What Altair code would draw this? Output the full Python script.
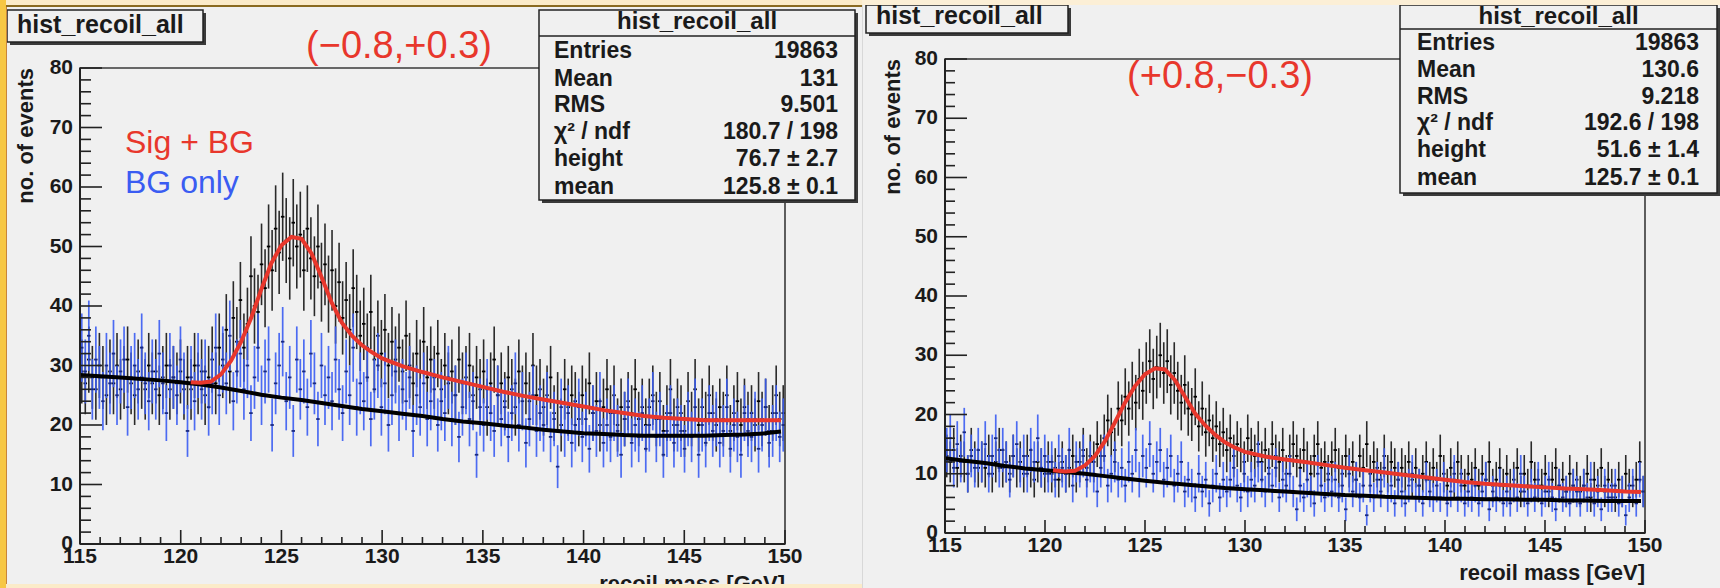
import altair as alt
import numpy as np
import pandas as pd

# ---------------- data ----------------
X_LO, X_HI, NBINS = 115.0, 150.0, 200

# left panel (-0.8,+0.3): BG only (blue) and Sig + BG (black) bin contents
L_BG_ONLY = [
    33, 29, 35, 26, 31, 28, 24, 30, 27, 32,
    25, 29, 31, 23, 28, 30, 26, 33, 27, 24,
    29, 26, 32, 27, 22, 30, 28, 25, 31, 27,
    19, 28, 24, 30, 26, 29, 23, 27, 33, 25,
    31, 27, 35, 24, 29, 32, 26, 30, 22, 28,
    33, 25, 29, 31, 20, 27, 30, 34, 24, 28,
    19, 31, 26, 29, 23, 32, 27, 21, 30, 25,
    28, 24, 31, 26, 22, 29, 25, 33, 23, 27,
    24, 28, 21, 26, 30, 23, 27, 20, 25, 29,
    22, 26, 24, 28, 19, 25, 23, 27, 21, 24,
    26, 20, 24, 22, 28, 21, 25, 18, 23, 27,
    21, 24, 15, 23, 20, 26, 22, 19, 25, 21,
    23, 18, 22, 27, 20, 24, 17, 21, 25, 19,
    22, 20, 24, 18, 21, 13, 23, 19, 22, 17,
    20, 23, 18, 21, 16, 22, 19, 24, 17, 20,
    18, 22, 19, 15, 21, 23, 17, 20, 18, 22,
    16, 20, 24, 18, 21, 15, 19, 22, 17, 20,
    19, 16, 21, 18, 23, 15, 20, 17, 22, 19,
    21, 17, 19, 23, 16, 20, 18, 15, 22, 19,
    18, 21, 16, 20, 23, 17, 19, 22, 18, 20,
]
L_SIG_BG = [
    29, 27, 31, 28, 26, 30, 28, 25, 29, 27,
    30, 26, 28, 31, 27, 25, 29, 28, 26, 30,
    27, 29, 25, 28, 30, 26, 28, 27, 29, 26,
    28, 26, 30, 27, 29, 25, 28, 31, 27, 33,
    30, 36, 29, 38, 34, 41, 33, 37, 45, 40,
    39, 47, 43, 50, 46, 53, 49, 55, 51, 48,
    54, 50, 52, 46, 53, 48, 45, 50, 44, 47,
    42, 46, 40, 44, 38, 41, 36, 43, 39, 35,
    37, 33, 39, 31, 35, 32, 36, 30, 34, 31,
    33, 29, 35, 30, 27, 32, 29, 34, 28, 31,
    28, 32, 26, 30, 27, 29, 25, 31, 27, 28,
    30, 25, 28, 26, 29, 23, 27, 31, 25, 27,
    24, 28, 26, 23, 29, 25, 27, 24, 30, 25,
    26, 23, 25, 28, 22, 24, 20, 26, 23, 25,
    24, 21, 25, 23, 27, 22, 24, 20, 23, 26,
    22, 25, 20, 23, 21, 24, 22, 26, 21, 23,
    20, 23, 25, 21, 24, 19, 22, 26, 20, 23,
    22, 19, 24, 21, 26, 20, 23, 21, 25, 22,
    20, 23, 21, 25, 19, 22, 24, 20, 23, 21,
    22, 20, 24, 21, 23, 19, 22, 25, 21, 22,
]
# left fit curves
L_FIT_X = [120.5, 121.0, 121.5, 122.0, 122.5, 123.0, 123.5, 124.0, 124.5, 125.0,
           125.5, 126.0, 126.5, 127.0, 127.5, 128.0, 128.5, 129.0, 129.5, 130.0,
           131.0, 132.0, 133.0, 134.0, 135.0, 136.0, 137.0, 138.0, 139.0, 140.0,
           141.0, 142.0, 143.0, 144.0, 145.0, 146.0, 147.0, 148.0, 149.0, 149.8]
L_FIT_Y = [27.2, 27.1, 27.3, 28.5, 30.8, 34.0, 38.0, 42.8, 47.2, 50.2,
           51.6, 51.3, 48.8, 44.8, 40.5, 37.2, 35.0, 33.4, 32.2, 31.2,
           29.9, 28.9, 28.0, 27.2, 26.4, 25.6, 24.9, 24.3, 23.7, 23.1,
           22.5, 22.0, 21.5, 21.2, 21.0, 20.8, 20.8, 20.8, 20.8, 20.8]
L_BGFIT_X = [115, 117, 119, 120, 121, 122, 123, 124, 125, 126, 127, 128, 129, 130,
             131, 132, 133, 134, 135, 136, 137, 138, 139, 140, 141, 142, 143, 144,
             145, 146, 147, 148, 149, 149.8]
L_BGFIT_Y = [28.4, 28.0, 27.5, 27.2, 26.8, 26.3, 25.7, 25.1, 24.6, 24.2, 23.7, 23.2, 22.7, 22.3,
             21.9, 21.5, 21.0, 20.6, 20.3, 19.9, 19.6, 19.2, 18.9, 18.6, 18.5, 18.3, 18.2, 18.2,
             18.2, 18.2, 18.3, 18.4, 18.6, 18.9]

# right panel (+0.8,-0.3)
R_BG_ONLY = [
    14, 16, 11, 15, 12, 17, 10, 13, 11, 14,
    12, 15, 10, 13, 16, 11, 14, 12, 9, 13,
    15, 11, 13, 10, 14, 12, 16, 11, 13, 10,
    12, 9, 13, 11, 10, 14, 8, 12, 11, 13,
    9, 12, 10, 7, 11, 13, 8, 10, 12, 9,
    11, 8, 12, 10, 14, 9, 13, 11, 15, 10,
    12, 14, 9, 11, 13, 8, 10, 12, 7, 9,
    8, 6, 10, 7, 9, 5, 8, 10, 6, 9,
    7, 9, 11, 8, 6, 10, 7, 9, 8, 12,
    9, 7, 10, 8, 11, 6, 9, 8, 10, 7,
    4, 8, 6, 9, 7, 5, 10, 8, 6, 9,
    7, 9, 6, 8, 4, 10, 7, 9, 6, 8,
    3, 8, 6, 9, 7, 11, 6, 8, 5, 9,
    7, 5, 8, 10, 6, 8, 5, 9, 7, 6,
    8, 6, 9, 5, 7, 10, 6, 8, 5, 7,
    6, 8, 5, 7, 9, 4, 7, 6, 8, 5,
    7, 5, 8, 6, 10, 7, 5, 8, 6, 9,
    5, 7, 9, 6, 4, 8, 6, 7, 5, 8,
    7, 5, 8, 6, 9, 5, 7, 4, 8, 6,
    6, 8, 5, 7, 3, 6, 8, 5, 9, 7,
]
R_SIG_BG = [
    13, 12, 14, 11, 13, 12, 10, 14, 12, 11,
    12, 11, 13, 10, 12, 14, 11, 12, 10, 13,
    11, 12, 10, 13, 11, 9, 12, 11, 10, 12,
    10, 11, 9, 12, 10, 11, 13, 10, 12, 14,
    11, 13, 12, 15, 13, 16, 19, 17, 14, 21,
    19, 23, 21, 24, 22, 26, 24, 27, 29, 26,
    28, 30, 27, 29, 25, 27, 24, 22, 25, 21,
    20, 23, 18, 21, 17, 19, 16, 18, 15, 17,
    14, 16, 13, 15, 14, 12, 16, 14, 13, 15,
    12, 14, 11, 15, 13, 12, 14, 10, 13, 15,
    13, 11, 14, 12, 10, 13, 15, 11, 12, 10,
    12, 14, 11, 10, 13, 11, 12, 9, 13, 11,
    15, 10, 12, 11, 9, 13, 10, 12, 11, 9,
    11, 10, 12, 9, 11, 8, 10, 12, 9, 11,
    9, 13, 10, 8, 11, 9, 12, 10, 8, 10,
    9, 11, 8, 10, 9, 12, 8, 9, 11, 8,
    10, 8, 9, 11, 7, 10, 8, 12, 9, 8,
    8, 10, 7, 9, 11, 8, 9, 7, 10, 8,
    9, 7, 8, 10, 6, 9, 8, 11, 7, 9,
    8, 6, 9, 7, 10, 8, 7, 9, 12, 7,
]
R_FIT_X = [120.4, 121.0, 121.5, 122.0, 122.5, 123.0, 123.5, 124.0, 124.5, 125.0,
           125.5, 126.0, 126.5, 127.0, 127.5, 128.0, 128.5, 129.0, 129.5, 130.0,
           131.0, 132.0, 133.0, 134.0, 135.0, 136.0, 137.0, 138.0, 139.0, 140.0,
           141.0, 142.0, 143.0, 144.0, 145.0, 146.0, 147.0, 148.0, 149.0, 149.8]
R_FIT_Y = [10.6, 10.4, 10.5, 11.4, 13.0, 15.5, 18.7, 22.0, 24.8, 26.8,
           27.8, 27.6, 25.8, 23.0, 20.2, 18.2, 16.6, 15.3, 14.4, 13.7,
           12.9, 12.4, 12.0, 11.5, 11.0, 10.6, 10.2, 9.8, 9.4, 9.0,
           8.6, 8.3, 8.1, 7.9, 7.7, 7.5, 7.4, 7.2, 7.0, 6.9]
R_BGFIT_X = [115, 116, 117, 118, 119, 120, 121, 122, 123, 124, 125, 126, 127, 128,
             129, 130, 131, 132, 133, 134, 135, 136, 137, 138, 139, 140, 141, 142,
             143, 144, 145, 146, 147, 148, 149, 149.8]
R_BGFIT_Y = [12.6, 12.2, 11.8, 11.3, 10.9, 10.6, 10.3, 10.0, 9.6, 9.2, 8.8, 8.5, 8.2, 7.9,
             7.6, 7.4, 7.2, 7.0, 6.8, 6.6, 6.4, 6.3, 6.1, 6.0, 5.9, 5.8, 5.8, 5.7,
             5.7, 5.6, 5.6, 5.5, 5.5, 5.4, 5.4, 5.4]

STAT_NAMES = ["Entries", "Mean", "RMS", "\u03c7\u00b2 / ndf", "height", "mean"]
L_STAT_VALS = ["19863", "131", "9.501", "180.7 / 198", "76.7 \u00b1 2.7", "125.8 \u00b1 0.1"]
R_STAT_VALS = ["19863", "130.6", "9.218", "192.6 / 198", "51.6 \u00b1 1.4", "125.7 \u00b1 0.1"]
HIST_NAME = "hist_recoil_all"
L_LABEL = "(\u22120.8,+0.3)"
R_LABEL = "(+0.8,\u22120.3)"
X_TITLE = "recoil mass [GeV]"
Y_TITLE = "no. of events"

X_TICK_MAJOR = [115, 120, 125, 130, 135, 140, 145, 150]
X_TICK_MINOR = [116, 117, 118, 119, 121, 122, 123, 124, 126, 127, 128, 129, 131, 132, 133, 134,
                136, 137, 138, 139, 141, 142, 143, 144, 146, 147, 148, 149]
Y_TICK_MAJOR = [0, 10, 20, 30, 40, 50, 60, 70, 80]
Y_TICK_MINOR = [2, 4, 6, 8, 12, 14, 16, 18, 22, 24, 26, 28, 32, 34, 36, 38, 42, 44, 46, 48,
                52, 54, 56, 58, 62, 64, 66, 68, 72, 74, 76, 78]

# ---------------- styling ----------------
FONT = "Liberation Sans"
BG = "#f0f0f0"
RED = "#e8372c"
BLUE = "#3a5cf2"
INK = "#1a1a1a"
CREAM = "#fbebc9"

XS = alt.Scale(domain=[X_LO, X_HI], nice=False, zero=False)

edges = X_LO + (X_HI - X_LO) / NBINS * np.arange(NBINS + 1)


def bins_df(counts):
    n = np.array(counts, dtype=float)
    return pd.DataFrame({
        "x": (edges[:-1] + edges[1:]) / 2, "lo": edges[:-1], "hi": edges[1:],
        "n": n, "elo": n - np.sqrt(n), "ehi": n + np.sqrt(n),
    })


def one():
    return pd.DataFrame({"k": [0]})


def panel(g, bg_counts, sig_counts, fit_x, fit_y, bgfit_x, bgfit_y, stat_vals, label):
    W, H, dy = g["W"], g["H"], g["dy"]
    YS = alt.Scale(domain=[0, 80], nice=False, zero=False, range=[H + dy, dy])

    def vrect(x1, x2, y1, y2, **kw):
        return alt.Chart(one()).mark_rect(**kw).encode(
            x=alt.value(x1), x2=alt.value(x2), y=alt.value(y1 + dy), y2=alt.value(y2 + dy))

    def vrule(x1, x2, y1, y2, **kw):
        return alt.Chart(one()).mark_rule(**kw).encode(
            x=alt.value(x1), x2=alt.value(x2), y=alt.value(y1 + dy), y2=alt.value(y2 + dy))

    def vtext(x, y, text, **kw):
        kw.setdefault("font", FONT)
        return alt.Chart(one()).mark_text(text=text, **kw).encode(
            x=alt.value(x), y=alt.value(y + dy))

    def X(f):
        return alt.X(f"{f}:Q", scale=XS, axis=None)

    def Y(f):
        return alt.Y(f"{f}:Q", scale=YS, axis=None)

    b = bins_df(bg_counts)
    s = bins_df(sig_counts)
    layers = []
    # panel background (also fixes the cell's extent)
    layers.append(vrect(*g["cell"], color=BG))
    # data: black (sig+bg) first, blue (bg only) on top
    layers.append(alt.Chart(s).mark_rule(color="#2a2a2a", strokeWidth=1.6).encode(
        x=X("x"), y=Y("elo"), y2="ehi:Q"))
    layers.append(alt.Chart(s).mark_rule(color="#000", strokeWidth=1.8).encode(
        x=X("lo"), x2="hi:Q", y=Y("n")))
    layers.append(alt.Chart(b).mark_rule(color=BLUE, strokeWidth=1.7, opacity=0.9).encode(
        x=X("x"), y=Y("elo"), y2="ehi:Q"))
    layers.append(alt.Chart(b).mark_rule(color="#1a2a80", strokeWidth=1.8).encode(
        x=X("lo"), x2="hi:Q", y=Y("n")))
    # fits
    layers.append(alt.Chart(pd.DataFrame({"x": bgfit_x, "y": bgfit_y})).mark_line(
        color="#000", strokeWidth=4).encode(x=X("x"), y=Y("y")))
    layers.append(alt.Chart(pd.DataFrame({"x": fit_x, "y": fit_y})).mark_line(
        color=RED, strokeWidth=4).encode(x=X("x"), y=Y("y")))
    # frame
    layers.append(vrect(0, W, 0, H, fillOpacity=0, stroke="#3a3a3a", strokeWidth=1.6))
    layers.append(vrule(0, W, H, H, color="#222", strokeWidth=2))
    layers.append(vrule(0, 0, 0, H, color="#222", strokeWidth=2))
    # inward ticks
    for vals, ln in ((X_TICK_MAJOR, g["xt"][0]), (X_TICK_MINOR, g["xt"][1])):
        layers.append(alt.Chart(pd.DataFrame({"x": vals})).mark_rule(color="#222", strokeWidth=1.6).encode(
            x=X("x"), y=alt.value(H + dy), y2=alt.value(H + dy - ln)))
    for vals, ln in ((Y_TICK_MAJOR, g["yt"][0]), (Y_TICK_MINOR, g["yt"][1])):
        layers.append(alt.Chart(pd.DataFrame({"y": vals})).mark_rule(color="#222", strokeWidth=1.6).encode(
            y=Y("y"), x=alt.value(0), x2=alt.value(ln)))
    # tick labels
    layers.append(alt.Chart(pd.DataFrame({"x": X_TICK_MAJOR})).mark_text(
        font=FONT, fontWeight="bold", fontSize=21, color=INK, align="center", baseline="top").encode(
        x=X("x"), y=alt.value(H + dy + 2), text=alt.Text("x:Q", format="d")))
    layers.append(alt.Chart(pd.DataFrame({"y": Y_TICK_MAJOR})).mark_text(
        font=FONT, fontWeight="bold", fontSize=21, color=INK, align="right", baseline="middle").encode(
        y=Y("y"), x=alt.value(-7), text=alt.Text("y:Q", format="d")))
    # axis titles
    layers.append(vtext(g["ytitle_x"], 0, Y_TITLE, angle=270, align="right", baseline="alphabetic",
                        fontSize=22, fontWeight="bold", color=INK))
    layers.append(vtext(W, H + g["xtitle_dy"], X_TITLE, align="right", baseline="alphabetic",
                        fontSize=22, fontWeight="bold", color=INK))
    # stat box
    sx1, sx2, sy1, sy2 = g["stat"]
    layers.append(vrect(sx1 + 3, sx2 + 3, sy1 + 3, sy2 + 3, color="#3a3a3a"))
    layers.append(vrect(sx1, sx2, sy1, sy2, fill=BG, stroke="#222", strokeWidth=1.5))
    layers.append(vrule(sx1, sx2, g["stat_sep"], g["stat_sep"], color="#222", strokeWidth=1.5))
    layers.append(vtext((sx1 + sx2) / 2, g["stat_title_y"], HIST_NAME, align="center",
                        baseline="alphabetic", fontSize=24, fontWeight="bold", color=INK))
    for yy, nm, vv in zip(g["stat_rows"], STAT_NAMES, stat_vals):
        layers.append(vtext(g["stat_lx"], yy, nm, align="left", baseline="middle",
                            fontSize=23, fontWeight="bold", color=INK))
        layers.append(vtext(g["stat_rx"], yy, vv, align="right", baseline="middle",
                            fontSize=23, fontWeight="bold", color=INK))
    # title box
    tx1, tx2, ty1, ty2 = g["tbox"]
    layers.append(vrect(tx1 + 3, tx2 + 3, ty1 + 3, ty2 + 3, color="#3a3a3a"))
    layers.append(vrect(tx1, tx2, ty1, ty2, fill=BG, stroke="#222", strokeWidth=1.5))
    layers.append(vtext(tx1 + 10, g["tbox_text_y"], HIST_NAME, align="left", baseline="alphabetic",
                        fontSize=25, fontWeight="bold", color=INK))
    # red scheme label
    layers.append(vtext(g["label"][0], g["label"][1], label, align="center", baseline="alphabetic",
                        fontSize=38, color=RED))
    # legend texts
    for (lx, ly, txt, col, fs) in g.get("legend", []):
        layers.append(vtext(lx, ly, txt, align="left", baseline="alphabetic", fontSize=fs, color=col))
    # page decorations
    for (x1, x2, y1, y2, col) in g.get("deco", []):
        layers.append(vrect(x1, x2, y1, y2, color=col))
    return alt.layer(*layers).properties(width=W, height=H)


# left panel: plot area at (80, 68), 705 x 476 ; cell spans x 0..862, y 0..588
LG = dict(
    W=705, H=476, dy=0, cell=(-80, 782, -68, 520),
    xt=(14, 7), yt=(22, 11), ytitle_x=-47, xtitle_dy=47,
    stat=(459, 775, -58, 132), stat_sep=-32, stat_title_y=-39,
    stat_rows=[-17, 11, 37, 64, 91, 119], stat_lx=474, stat_rx=758,
    tbox=(-73, 123, -58, -26), tbox_text_y=-35,
    label=(319, -10),
    legend=[(45, 85, "Sig + BG", RED, 32), (45, 125, "BG only", BLUE, 32)],
    deco=[
        (-80, 782, 516, 520, CREAM),
        (-80, 782, -68, -63, CREAM),
        (-80, 782, -63, -61, "#8a6a20"),
        (-80, -74, -68, 520, "#f7c744"),
        (-74, -73, -61, 516, "#c9853a"),
    ],
)
# right panel: plot area at (945, 59), 700 x 474 ; cell spans x 862..1720
# (all y given relative to its own plot top; dy lifts it 9 px above the left one)
RG = dict(
    W=700, H=474, dy=-9, cell=(-83, 775, -59, 529),
    xt=(13, 7), yt=(22, 10), ytitle_x=-45, xtitle_dy=47,
    stat=(455, 772, -54, 134), stat_sep=-30, stat_title_y=-35,
    stat_rows=[-16, 11, 38, 64, 91, 119], stat_lx=472, stat_rx=754,
    tbox=(-79, 123, -54, -26), tbox_text_y=-35,
    label=(275, 29),
    deco=[
        (-83, 775, -59, -54, "#fcefd6"),
        (-83, -82, -54, 529, "#d8d8d8"),
    ],
)

left = panel(LG, L_BG_ONLY, L_SIG_BG, L_FIT_X, L_FIT_Y, L_BGFIT_X, L_BGFIT_Y, L_STAT_VALS, L_LABEL)
right = panel(RG, R_BG_ONLY, R_SIG_BG, R_FIT_X, R_FIT_Y, R_BGFIT_X, R_BGFIT_Y, R_STAT_VALS, R_LABEL)

chart = alt.hconcat(left, right, spacing=0).properties(
    padding=0, background=BG
).configure_view(stroke=None)

chart.save("out.html", embed_options={"renderer": "svg", "actions": False})
